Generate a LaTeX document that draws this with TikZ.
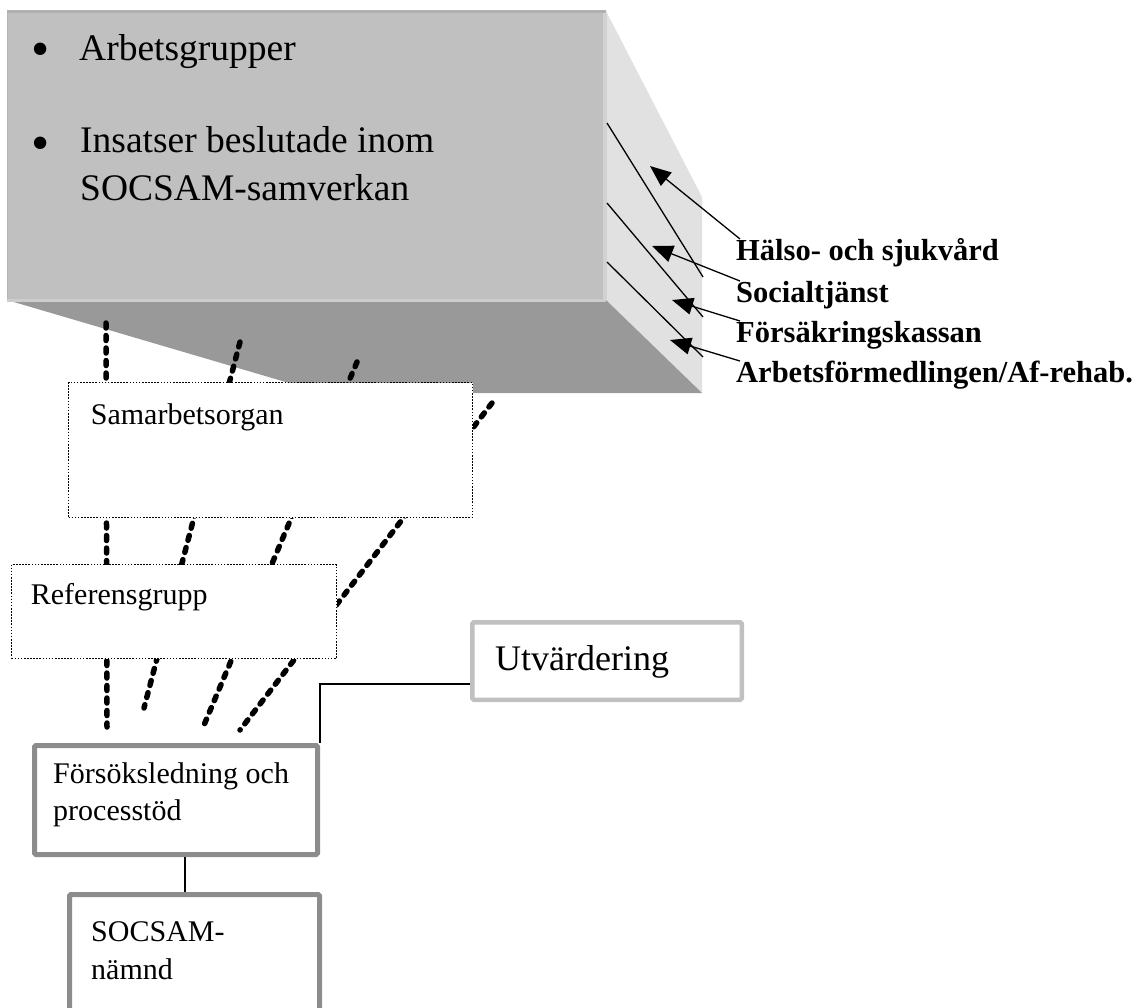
\documentclass[tikz,border=0pt]{standalone}
\usepackage{fontspec}
\setmainfont{Liberation Serif}
\usetikzlibrary{arrows.meta,positioning}

\begin{document}
\begin{tikzpicture}[x=1pt,y=-1pt]
	\tikzstyle{every node}=[font=\fontsize{30pt}{37pt}\selectfont, inner sep=0pt]
	\tikzstyle{orgbox}=[draw, fill=white, line width=1.6pt, dash pattern=on 1.6pt off 1.5pt]
	\tikzstyle{leadbox}=[draw={rgb,255:red,140; green,140; blue,140}, fill=white, line width=5pt, rounded corners=1.5pt]
	\tikzstyle{evalbox}=[draw={rgb,255:red,192; green,192; blue,192}, fill=white, line width=4.5pt, rounded corners=1.5pt]
	\tikzstyle{boxtext}=[anchor=base west, align=left]
	\tikzstyle{bigtext}=[anchor=base west, align=left, font=\fontsize{37.5pt}{48pt}\selectfont]
	\tikzstyle{dot}=[anchor=base west, font=\fontsize{52pt}{52pt}\selectfont]
	\tikzstyle{partlabel}=[anchor=base west, font=\fontsize{30.5pt}{40pt}\selectfont\bfseries]
	\tikzstyle{feed}=[line width=1.3pt, -{Triangle[length=21pt,width=17pt]}]
	\tikzstyle{link}=[line width=5.5pt, dash pattern=on 5pt off 7.5pt, line cap=round]
	
	\useasboundingbox (0,0) rectangle (1143,1007);
	\clip (0,0) rectangle (1143,1007);
	
	% the block
	\fill[fill={rgb,255:red,192; green,192; blue,192}] (7,11) rectangle (606,300);
	\fill[fill={rgb,255:red,225; green,225; blue,225}] (606,11) -- (702,197) -- (702,393) -- (606,300) -- cycle;
	\fill[fill={rgb,255:red,153; green,153; blue,153}] (7,300) -- (606,300) -- (702,393) -- (323,393) -- cycle;
	\draw[color={rgb,255:red,176; green,176; blue,176}, line width=3pt] (7,11.5) -- (606,11.5);
	\draw[color={rgb,255:red,180; green,180; blue,180}, line width=1.5pt] (7.5,11) -- (7.5,300);
	\draw[color={rgb,255:red,205; green,205; blue,205}, line width=3pt] (7,300) -- (606,300);
	\draw[color={rgb,255:red,210; green,210; blue,210}, line width=4pt] (605,13) -- (605,299);
	
	\node[dot] (dot1) at (31,66) {•};
	\node[bigtext] (arbgr) at (79,60) {Arbetsgrupper};
	\node[dot] (dot2) at (31,160) {•};
	\node[bigtext] (insats) at (80,200) {Insatser beslutade inom\\SOCSAM-samverkan};
	
	\draw[line width=1.3pt] (607,123) -- (703,277);
	\draw[line width=1.3pt] (607,203) -- (703,317);
	\draw[line width=1.3pt] (607,262) -- (703,357);
	
	% parties
	\node[partlabel] (halso) at (736,260) {Hälso- och sjukvård};
	\node[partlabel] (social) at (736,302) {Socialtjänst};
	\node[partlabel] (fkassa) at (736,342) {Försäkringskassan};
	\node[partlabel] (afrehab) at (736,382) {Arbetsförmedlingen/Af-rehab.};
	
	\coordinate (tipA) at (650,166);
	\coordinate (tipB) at (652,246);
	\coordinate (tipC) at (672,300);
	\coordinate (tipD) at (670,340);
	\draw[feed] ([shift={(4pt,21pt)}]halso.base west) -- (tipA);
	\draw[feed] ([shift={(4pt,21pt)}]social.base west) -- (tipB);
	\draw[feed] ([shift={(4pt,21pt)}]fkassa.base west) -- (tipC);
	\draw[feed] ([shift={(4pt,21pt)}]afrehab.base west) -- (tipD);
	
	% links down through the organs
	\coordinate (up1) at (106,323);
	\coordinate (up2) at (240,342);
	\coordinate (up3) at (357,362);
	\coordinate (up4) at (492,403);
	\coordinate (down1) at (107,727);
	\coordinate (down2) at (144,708);
	\coordinate (down3) at (204,725);
	\coordinate (down4) at (240,730);
	\draw[link] (up1) -- (down1);
	\draw[link] (up2) -- (down2);
	\draw[link] (up3) -- (down3);
	\draw[link] (up4) -- (down4);
	
	\node[orgbox, minimum width=404pt, minimum height=135pt] (samorg) at (270.5,450) {};
	\node[orgbox, minimum width=325pt, minimum height=94pt] (refgr) at (174,611.5) {};
	\node[evalbox, minimum width=269.5pt, minimum height=77.5pt] (utv) at (607,661) {};
	\node[leadbox, minimum width=283pt, minimum height=109pt] (forsok) at (176,800) {};
	\node[leadbox, minimum width=250pt, minimum height=167pt] (socsam) at (194.5,978) {};
	
	\node[boxtext] (samorgtext) at ([shift={(23pt,-43pt)}]samorg.north west) {Samarbetsorgan};
	\node[boxtext] (refgrtext) at ([shift={(20pt,-41pt)}]refgr.north west) {Referensgrupp};
	\node[boxtext, font=\fontsize{36pt}{44pt}\selectfont] (utvtext) at ([shift={(25pt,-50pt)}]utv.north west) {Utvärdering};
	\node[boxtext] (forsoktext) at ([shift={(21pt,-77pt)}]forsok.north west) {Försöksledning och\\processtöd};
	\node[boxtext, font=\fontsize{30pt}{38pt}\selectfont] (socsamtext) at ([shift={(24pt,-87pt)}]socsam.north west) {SOCSAM-\\nämnd};
	
	\draw[line width=1.3pt] ([yshift=-23pt]utv.west) -| (forsok.north east);
	\draw[line width=1.3pt] ([xshift=-9.5pt]socsam.north) -- ([xshift=-9.5pt]socsam.north |- forsok.south);
	
\end{tikzpicture}
\end{document}
